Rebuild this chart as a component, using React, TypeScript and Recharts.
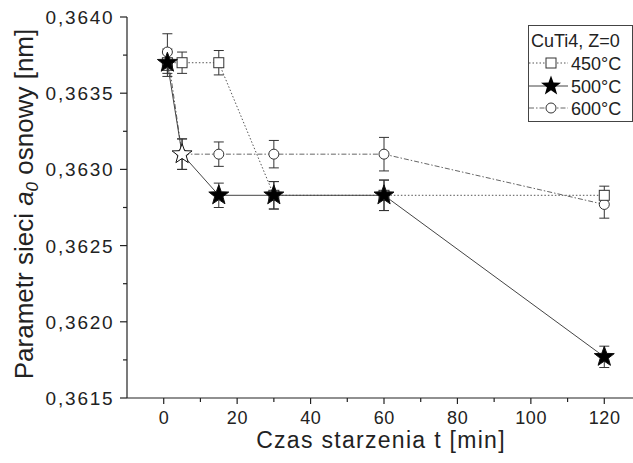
import React from 'react';
import { ComposedChart, Line, XAxis, YAxis, ErrorBar, Label } from 'recharts';

const times = [1, 5, 15, 30, 60, 120];
const values450 = [0.3637, 0.3637, 0.3637, 0.36283, 0.36283, 0.36283];
const errors450 = [0.00007, 0.00007, 0.00008, 0.00009, 0.0001, 0.00006];
const values500 = [0.3637, 0.3631, 0.36283, 0.36283, 0.36283, 0.36177];
const errors500 = [0.00009, 0.0001, 0.00008, 0.00009, 0.0001, 0.00007];
const values600 = [0.36377, 0.3631, 0.3631, 0.3631, 0.3631, 0.36277];
const errors600 = [0.00012, 0.0001, 0.00008, 0.00009, 0.00011, 0.00009];

const xTicks = [0, 10, 20, 30, 40, 50, 60, 70, 80, 90, 100, 110, 120];
const xMajor = [0, 20, 40, 60, 80, 100, 120];
const yTicks = [0.3615, 0.36175, 0.362, 0.36225, 0.3625, 0.36275, 0.363, 0.36325, 0.3635, 0.36375, 0.364];
const yMajor = [0.3615, 0.362, 0.3625, 0.363, 0.3635, 0.364];

const legendTitle = 'CuTi4, Z=0';
const seriesNames = ['450°C', '500°C', '600°C'];
const xTitle = 'Czas starzenia t [min]';

const data = times.map((t, i) => ({
  t,
  v450: values450[i],
  e450: errors450[i],
  v500: values500[i],
  e500: errors500[i],
  v600: values600[i],
  e600: errors600[i],
}));

const FONT = '"Liberation Sans", Arial, sans-serif';
const INK = '#222';

const isMajor = (v: number, list: number[]) => list.some((m) => Math.abs(m - v) < 1e-9);

const XTick = (props: any) => {
  const { x, y, payload } = props;
  const v = payload.value;
  const major = isMajor(v, xMajor);
  return (
    <g>
      <line x1={x} x2={x} y1={y} y2={y + (major ? 6 : 4)} stroke={INK} strokeWidth={1.2} />
      {major && (
        <text x={x + 0.3} y={y + 26} textAnchor="middle" fontFamily={FONT} fontSize={18} letterSpacing={0.6} fill={INK}>
          {v}
        </text>
      )}
    </g>
  );
};

const YTick = (props: any) => {
  const { x, y, payload } = props;
  const v = payload.value;
  const major = isMajor(v, yMajor);
  return (
    <g>
      <line x1={x - (major ? 7 : 4)} x2={x} y1={y} y2={y} stroke={INK} strokeWidth={1.2} />
      {major && (
        <text x={x - 12.5} y={y + 7} textAnchor="end" fontFamily={FONT} fontSize={19} letterSpacing={1.8} fill={INK}>
          {v.toFixed(4).replace('.', ',')}
        </text>
      )}
    </g>
  );
};

const starPath = (cx: number, cy: number, R: number, r: number) => {
  const pts: string[] = [];
  for (let k = 0; k < 10; k++) {
    const ang = -Math.PI / 2 + (k * Math.PI) / 5;
    const rad = k % 2 === 0 ? R : r;
    pts.push(`${(cx + rad * Math.cos(ang)).toFixed(2)},${(cy + rad * Math.sin(ang)).toFixed(2)}`);
  }
  return `M${pts.join('L')}Z`;
};

const SquareDot = (p: any) => (
  <rect key={`sq${p.index}`} x={p.cx - 5} y={p.cy - 5} width={10} height={10} fill="#fff" stroke="#333" strokeWidth={1} />
);
const CircleDot = (p: any) => (
  <circle key={`ci${p.index}`} cx={p.cx} cy={p.cy} r={5} fill="#fff" stroke="#333" strokeWidth={1} />
);
const StarDot = (p: any) => (
  <path
    key={`st${p.index}`}
    d={starPath(p.cx, p.cy, 10.5, 4.3)}
    fill={p.index === 1 ? '#fff' : '#000'}
    stroke="#111"
    strokeWidth={1}
  />
);

const LegendBox = () => (
  <svg width={105} height={97} style={{ display: 'block' }}>
    <rect x={0.5} y={0.5} width={104} height={96} fill="#fff" stroke="#444" strokeWidth={1} />
    <text x={3} y={22} fontFamily={FONT} fontSize={18} fill={INK}>
      {legendTitle}
    </text>
    <line x1={1} x2={40} y1={38} y2={38} stroke="#555" strokeDasharray="1.5 2" />
    <rect x={18} y={33} width={10} height={10} fill="#fff" stroke="#333" />
    <text x={43} y={44.5} fontFamily={FONT} fontSize={18} fill={INK}>
      {seriesNames[0]}
    </text>
    <line x1={1} x2={40} y1={61} y2={61} stroke="#444" />
    <path d={starPath(23, 61, 10.5, 4.3)} fill="#000" />
    <text x={43} y={67.5} fontFamily={FONT} fontSize={18} fill={INK}>
      {seriesNames[1]}
    </text>
    <line x1={1} x2={40} y1={83} y2={83} stroke="#666" strokeDasharray="5 2 1.5 2" />
    <circle cx={23} cy={83} r={5} fill="#fff" stroke="#333" />
    <text x={43} y={89.5} fontFamily={FONT} fontSize={18} fill={INK}>
      {seriesNames[2]}
    </text>
  </svg>
);

export default function App() {
  return (
    <div style={{ position: 'absolute', left: 0, top: 0, width: 633, height: 463, overflow: 'hidden', background: '#fff' }}>
      <ComposedChart width={660} height={463} data={data} margin={{ top: 17, right: 19, bottom: 0, left: 0 }}>
        <XAxis
          dataKey="t"
          type="number"
          domain={[-10, 130]}
          ticks={xTicks}
          interval={0}
          tick={<XTick />}
          tickLine={false}
          tickSize={0}
          tickMargin={0}
          height={65}
          axisLine={{ stroke: INK, strokeWidth: 1.2 }}
          allowDataOverflow
        >
          <Label
            content={() => (
              <text x={381} y={448} textAnchor="middle" fontFamily={FONT} fontSize={23} letterSpacing={1.3} fill={INK}>
                {xTitle}
              </text>
            )}
          />
        </XAxis>
        <XAxis
          xAxisId="top"
          orientation="top"
          dataKey="t"
          type="number"
          domain={[-10, 130]}
          height={0}
          tick={false}
          tickLine={false}
          axisLine={{ stroke: INK, strokeWidth: 1.2 }}
        />
        <YAxis
          type="number"
          domain={[0.3615, 0.364]}
          ticks={yTicks}
          interval={0}
          width={127}
          tick={<YTick />}
          tickLine={false}
          tickSize={0}
          tickMargin={0}
          axisLine={{ stroke: INK, strokeWidth: 1.2 }}
          allowDataOverflow
        >
          <Label
            content={() => (
              <text
                x={33}
                y={204}
                transform="rotate(-90 33 204)"
                textAnchor="middle"
                fontFamily={FONT}
                fontSize={26}
                fill={INK}
              >
                Parametr sieci <tspan fontStyle="italic">a</tspan>
                <tspan fontStyle="italic" fontSize={17} dy={5}>0</tspan>
                <tspan dy={-5}> osnowy [nm]</tspan>
              </text>
            )}
          />
        </YAxis>
        <Line
          dataKey="v600"
          stroke="#666"
          strokeWidth={1}
          strokeDasharray="5 2 1.5 2"
          dot={CircleDot}
          activeDot={false}
          isAnimationActive={false}
        >
          <ErrorBar dataKey="e600" width={5} stroke="#333" strokeWidth={1} direction="y" isAnimationActive={false} />
        </Line>
        <Line
          dataKey="v450"
          stroke="#555"
          strokeWidth={1}
          strokeDasharray="1.5 2"
          dot={SquareDot}
          activeDot={false}
          isAnimationActive={false}
        >
          <ErrorBar dataKey="e450" width={5} stroke="#333" strokeWidth={1} direction="y" isAnimationActive={false} />
        </Line>
        <Line
          dataKey="v500"
          stroke="#444"
          strokeWidth={1}
          dot={StarDot}
          activeDot={false}
          isAnimationActive={false}
        >
          <ErrorBar dataKey="e500" width={5} stroke="#333" strokeWidth={1} direction="y" isAnimationActive={false} />
        </Line>
      </ComposedChart>
      <div style={{ position: 'absolute', left: 528, top: 25 }}>
        <LegendBox />
      </div>
    </div>
  );
}
